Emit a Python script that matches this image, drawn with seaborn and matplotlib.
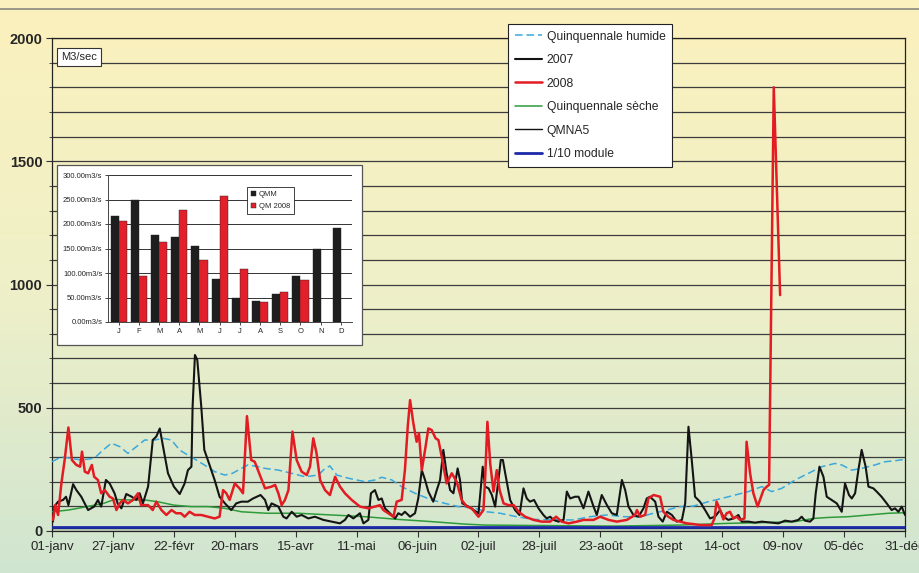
import numpy as np
import pandas as pd
import matplotlib
matplotlib.use("Agg")
import matplotlib.pyplot as plt
import seaborn as sns
from matplotlib.colors import LinearSegmentedColormap
from matplotlib.patches import Rectangle

sns.set_style("ticks")
plt.rcParams['font.family'] = ['Liberation Sans', 'DejaVu Sans']

# --- donnees (jour de l'annee, debit m3/s) ---
tick_days = list(range(0, 365, 26))
tick_labels = ['01-janv', '27-janv', '22-févr', '20-mars', '15-avr', '11-mai', '06-juin',
               '02-juil', '28-juil', '23-août', '18-sept', '14-oct', '09-nov', '05-déc', '31-déc']

serie_2007 = [(0.4, 38), (1, 99), (2.6, 119), (4.7, 126), (6, 139), (7, 105), (9, 190), (10.4, 166),
              (12.5, 139), (15.4, 85), (18, 99), (19.6, 126), (21, 99), (23, 207), (24.6, 193),
              (26.7, 153), (28, 112), (29.6, 92), (31.7, 150), (34, 139), (36, 126), (37.4, 153),
              (38.8, 112), (41, 180), (43, 369), (44.5, 383), (46, 416), (47.4, 342), (49.5, 234),
              (52, 180), (54.5, 150), (56.6, 193), (58, 247), (59.5, 261), (60, 504), (61, 714),
              (62, 694), (63.7, 504), (65, 329), (66.5, 288), (69.4, 207), (71.5, 139), (73.8, 112),
              (76.5, 85), (78.6, 112), (80.8, 119), (83.6, 119), (85.8, 132), (89, 146),
              (90.9, 126), (92.3, 85), (93.7, 112), (96.6, 99), (98.7, 58), (100.1, 51), (102.3, 78),
              (104.4, 58), (106.5, 65), (109.4, 51), (112.2, 58), (115.8, 45), (119.3, 38),
              (122.9, 31), (125, 45), (126.5, 65), (128.6, 51), (131.4, 72), (132.9, 31), (135, 45),
              (136.1, 153), (137.8, 166), (139.3, 126), (140.7, 132), (142.1, 92), (144.2, 72),
              (146.4, 51), (147.8, 72), (149.2, 65), (150.6, 78), (152.8, 58), (154.9, 72),
              (156.3, 132), (157.8, 247), (159.2, 207), (160.6, 160), (162.7, 119), (164.2, 166),
              (165.6, 207), (167, 329), (168.4, 234), (169.9, 166), (171.3, 153), (173.1, 254),
              (174.1, 207), (175.1, 112), (177.7, 99), (182, 72),
              (183.8, 261), (184.8, 180), (186.3, 173), (187.7, 146), (189.1, 99), (190.5, 207),
              (191.5, 288), (192.4, 288), (193.4, 234), (195.5, 126), (197.6, 85), (199.5, 65),
              (201.2, 173), (202.6, 132), (204, 119), (205.7, 126), (207.6, 92), (209.7, 65),
              (211.1, 51), (212.6, 58), (214, 45), (216.1, 38), (218.3, 45), (219.7, 160),
              (221.1, 132), (223.2, 139), (224.7, 139), (226.8, 92), (228.9, 160), (231.1, 99),
              (232.5, 65), (234.6, 146), (236.8, 105), (238.9, 72), (241, 65), (243.2, 207),
              (244.6, 166), (246, 99), (248.1, 65), (250.3, 58), (252.4, 92), (253.8, 132),
              (255.2, 139), (257.4, 119), (258.8, 58), (260.6, 38), (262.4, 78), (264.5, 65),
              (266.6, 38), (268.8, 45), (270.2, 112), (271.6, 423), (273, 288), (274.4, 139),
              (276.5, 119), (278.7, 85), (280.8, 51), (282.9, 58), (285.1, 85), (286.5, 58),
              (288.6, 45), (290.8, 51), (292.9, 65), (294.3, 38), (297.2, 38), (300, 34),
              (302.9, 38), (307.1, 34), (310, 31), (312.8, 42), (315.7, 38), (318.5, 45),
              (319.9, 58), (321.3, 42), (323.5, 38), (324.9, 51), (325.9, 153), (327.5, 261),
              (329.2, 220), (330.6, 139), (332.7, 126), (334.9, 112), (337, 78), (338.4, 193),
              (340.1, 146), (341.3, 132), (342.7, 153), (344.1, 247), (345.5, 329), (347.2, 261),
              (348.4, 180), (350.5, 173), (351.9, 160), (354, 139), (356.2, 112), (358.3, 85),
              (359.7, 92), (361.2, 78), (362.6, 99), (364, 65)]

serie_2008 = [(0.4, 45), (1.4, 105), (2.6, 65), (4, 193), (5.4, 288), (7, 420), (8.5, 288), (10.4, 268),
              (12, 261), (12.8, 322), (14, 241), (15.4, 234), (17, 268), (18, 220), (19.6, 207),
              (21, 153), (22.5, 166), (24.6, 139), (26, 132), (27.5, 85), (28.9, 112), (30.3, 126),
              (32.4, 112), (34.6, 126), (36.7, 153), (38, 105), (41, 105), (43, 85), (44.5, 119),
              (46.7, 85), (48.8, 65), (51, 85), (53, 72), (55, 72), (56.6, 58), (58.7, 78),
              (60.9, 65), (63.7, 65), (66.6, 58), (69.4, 51), (71.5, 58), (73, 166), (74.4, 153),
              (75.8, 126), (78, 193), (80, 173), (81.5, 153), (83.2, 466), (85, 288), (86.5, 281),
              (89, 220), (90.9, 173), (93.7, 180), (95.2, 187), (96.6, 153), (98, 105), (99.4, 126),
              (100.9, 166), (102.6, 403), (104.4, 288), (106.5, 241), (108.7, 227), (110.1, 261),
              (111.5, 376), (112.9, 315), (114.4, 207), (116.5, 166), (118.6, 146), (120.8, 220),
              (122.9, 180), (125, 153), (127.9, 126), (131.4, 99), (135, 92), (137.8, 99), (140, 105),
              (141.4, 85), (143.5, 72), (145.7, 58), (147.1, 119), (149.2, 126), (150.6, 247),
              (151.8, 423), (152.8, 531), (154.2, 437), (155.6, 362), (156.6, 396), (157.8, 247),
              (159.2, 329), (160.6, 416), (162, 410), (163.7, 376), (164.9, 369), (166.3, 301),
              (168.4, 193), (170.6, 234), (172.7, 200), (174.8, 126), (177, 99), (179.1, 92),
              (182, 58), (184.1, 85), (184.8, 207), (185.8, 443), (187, 274), (188.4, 160),
              (189.8, 247), (191, 166), (192.7, 112), (194.8, 105), (197, 105), (199.1, 78),
              (201.9, 58), (205.5, 45), (209, 38), (212.6, 38), (215.1, 58), (217.5, 38), (220.4, 31),
              (224, 38), (226.8, 45), (231.1, 45), (233.9, 58), (237.5, 45), (241, 38), (245.3, 45),
              (248.8, 65), (249.6, 85), (251, 58), (253.1, 65), (254.5, 132), (256.7, 146),
              (259.5, 139), (260.9, 78), (263, 58), (265.2, 45), (268, 38), (270.9, 31), (273.7, 28),
              (276.6, 24), (281.5, 24), (282.7, 51), (283.6, 119), (285.1, 85), (286.5, 47),
              (287.9, 72), (289.3, 78), (290.8, 51), (292.2, 58), (293.6, 45), (295.5, 51),
              (296.4, 362), (297.9, 234), (299.3, 153), (301.1, 99), (302.1, 126), (303.6, 166),
              (305, 180), (306, 187), (308, 1800), (310.7, 957)]

quinq_humide = [(0, 281), (4, 301), (8, 295), (12.5, 288), (18, 295), (21.8, 328), (25.3, 356), (29, 342),
                (32.4, 315), (36, 342), (39.5, 369), (43.8, 369), (47.4, 376), (51, 369), (54.5, 328),
                (58, 308), (61.6, 288), (65, 268), (69.4, 241), (73.7, 227), (77, 234), (80.8, 254),
                (83.6, 268), (88, 261), (90.9, 254), (96.6, 247), (102.3, 234), (108, 220),
                (113.7, 227), (116.5, 254), (118.6, 264), (121.5, 227), (126.5, 214), (133.6, 200),
                (137.8, 207), (140.7, 218), (145, 207), (149.2, 180), (154.9, 153), (162, 126),
                (167.7, 112), (173.4, 99), (179.1, 96), (185.5, 78), (191.2, 72), (198.3, 58),
                (205.5, 47), (214, 45), (222.5, 45), (229.6, 58), (236.8, 65), (243.9, 58), (251, 58),
                (256.7, 72), (262.4, 85), (268, 99), (273.7, 101), (280.1, 119), (285.8, 132),
                (291.5, 146), (297.2, 160), (302.9, 180), (307.1, 160), (311.4, 173), (317.1, 207),
                (322.8, 234), (328.5, 261), (334.1, 274), (337, 268), (341.3, 247), (345.5, 254),
                (351.2, 268), (355.5, 281), (359.7, 285), (364, 291)]

quinq_seche = [(0, 78), (7, 85), (15, 99), (22, 112), (26.7, 128), (32, 126), (39.5, 126), (45, 119),
               (52, 105), (59.5, 99), (66.6, 99), (73.7, 92), (80.8, 78), (91.5, 72), (105.1, 72),
               (119.3, 65), (133.6, 58), (147.8, 47), (162, 38), (176.2, 28), (184.8, 24), (211, 22),
               (239.6, 20), (268, 24), (276.6, 27), (288.6, 31), (302.9, 34), (317.1, 38), (324.9, 51),
               (331.3, 55), (339.8, 58), (348.4, 65), (356.9, 72), (364, 74)]

qmna5 = 12
dixieme_module = 18

# histogramme mensuel (encart)
mois = ['J', 'F', 'M', 'A', 'M', 'J', 'J', 'A', 'S', 'O', 'N', 'D']
qmm = [216, 248, 178, 174, 156, 88, 50, 42, 58, 93, 149, 192]
qm_2008 = [206, 94, 163, 229, 126, 257, 108, 41, 62, 86, None, None]

# --- figure ---
fig = plt.figure(figsize=(9.2, 5.73), dpi=100)

# fond degrade jaune -> vert
bg = fig.add_axes([0, 0, 1, 1], zorder=-5)
cmap = LinearSegmentedColormap.from_list('fond', ['#fbf1bd', '#eff0c8', '#d0e5d0'])
bg.imshow(np.linspace(0, 1, 256).reshape(-1, 1), aspect='auto', cmap=cmap,
          extent=[0, 1, 0, 1], origin='upper')
bg.axis('off')
bg.axhline(1 - 9 / 573, color='#8a8a80', lw=1.2)

ax = fig.add_axes([52 / 920, 1 - 531 / 573, 853 / 920, 493 / 573], zorder=0)
ax.set_facecolor('none')

def trace(serie, **kw):
    jours, debits = zip(*serie)
    sns.lineplot(x=list(jours), y=list(debits), ax=ax, **kw)

trace(quinq_humide, color='#3aa8dc', lw=1.1, linestyle=(0, (5, 2.5)), label='Quinquennale humide', zorder=3)
trace(quinq_seche, color='#2e9b3a', lw=1.1, label='Quinquennale sèche', zorder=3)
ax.axhline(qmna5, color='#111111', lw=1.0, label='QMNA5', zorder=3)
ax.axhline(dixieme_module, color='#1c2aa8', lw=2.0, label='1/10 module', zorder=3)
trace(serie_2007, color='#141414', lw=1.5, label='2007', zorder=4)
trace(serie_2008, color='#e31b23', lw=1.8, label='2008', zorder=5)
if ax.get_legend():
    ax.get_legend().remove()

ax.set_xlim(0, 364)
ax.set_ylim(0, 2000)
ax.set_xticks(tick_days)
ax.set_xticklabels(tick_labels, fontsize=9.5)
ax.set_yticks([0, 500, 1000, 1500, 2000])
ax.set_yticklabels(['0', '500', '1000', '1500', '2000'], fontsize=10.5, fontweight='bold')
ax.set_yticks(range(0, 2001, 100), minor=True)
ax.yaxis.grid(True, which='both', color='#3c3c3c', lw=0.9)
ax.tick_params(axis='both', which='major', length=4, width=0.8, pad=3, color='#333333')
ax.tick_params(axis='y', which='minor', length=2.5, width=0.6, color='#333333')
for s in ax.spines.values():
    s.set_color('#222222')
    s.set_linewidth(0.9)

# legende principale
h, l = ax.get_legend_handles_labels()
ordre = ['Quinquennale humide', '2007', '2008', 'Quinquennale sèche', 'QMNA5', '1/10 module']
hd = dict(zip(l, h))
leg = fig.legend([hd[k] for k in ordre], ordre, loc='upper left', bbox_to_anchor=(508 / 920, 1 - 24 / 573),
                 fontsize=8.7, frameon=True, fancybox=False, framealpha=1, edgecolor='#222222',
                 handlelength=2.3, labelspacing=0.95, borderpad=0.55, handletextpad=0.35, borderaxespad=0)
leg.get_frame().set_linewidth(0.8)

fig.text(79 / 920, 1 - 57 / 573, 'M3/sec', fontsize=8, ha='center', va='center',
         bbox=dict(boxstyle='square,pad=0.35', facecolor='white', edgecolor='#333333', lw=0.8))

# encart histogramme
fig.patches.append(Rectangle((57 / 920, 1 - 345 / 573), 305 / 920, 180 / 573, transform=fig.transFigure,
                             facecolor='white', edgecolor='#555555', lw=0.9, zorder=1))
axi = fig.add_axes([108 / 920, 1 - 322 / 573, 244 / 920, 147 / 573], zorder=2)
axi.set_facecolor('white')

df = pd.DataFrame({
    'mois': list(range(12)) * 2,
    'serie': ['QMM'] * 12 + ['QM 2008'] * 12,
    'debit': qmm + qm_2008,
}).dropna()
sns.barplot(data=df, x='mois', y='debit', hue='serie', hue_order=['QMM', 'QM 2008'],
            palette=['#1e1e1e', '#e2202b'], width=0.8, saturation=1, errorbar=None,
            edgecolor='#202020', linewidth=0.3, ax=axi)
axi.set_xlim(-0.53, 11.55)
axi.set_ylim(0, 300)
axi.set_xticks(range(12))
axi.set_xticklabels(mois, fontsize=5.5)
axi.set_yticks(range(0, 301, 50))
axi.set_yticklabels([f'{v:.2f}m3/s' for v in range(0, 301, 50)], fontsize=5.5)
axi.set_xlabel('')
axi.set_ylabel('')
axi.yaxis.grid(True, color='#333333', lw=0.7)
axi.set_axisbelow(True)
axi.tick_params(axis='both', length=2, width=0.6, pad=2)
sns.despine(ax=axi, top=True, right=True)
for s in ['left', 'bottom']:
    axi.spines[s].set_color('#444444')
    axi.spines[s].set_linewidth(0.7)
hi, li = axi.get_legend_handles_labels()
lgi = axi.legend(hi, li, loc='upper left', bbox_to_anchor=(0.57, 0.92), fontsize=5.5, title=None,
                 frameon=True, fancybox=False, framealpha=1, edgecolor='#222222',
                 handlelength=0.7, handleheight=0.7, handletextpad=0.3, labelspacing=0.6,
                 borderpad=0.5, borderaxespad=0)
lgi.get_frame().set_linewidth(0.6)

fig.savefig('out.png', dpi=100)
